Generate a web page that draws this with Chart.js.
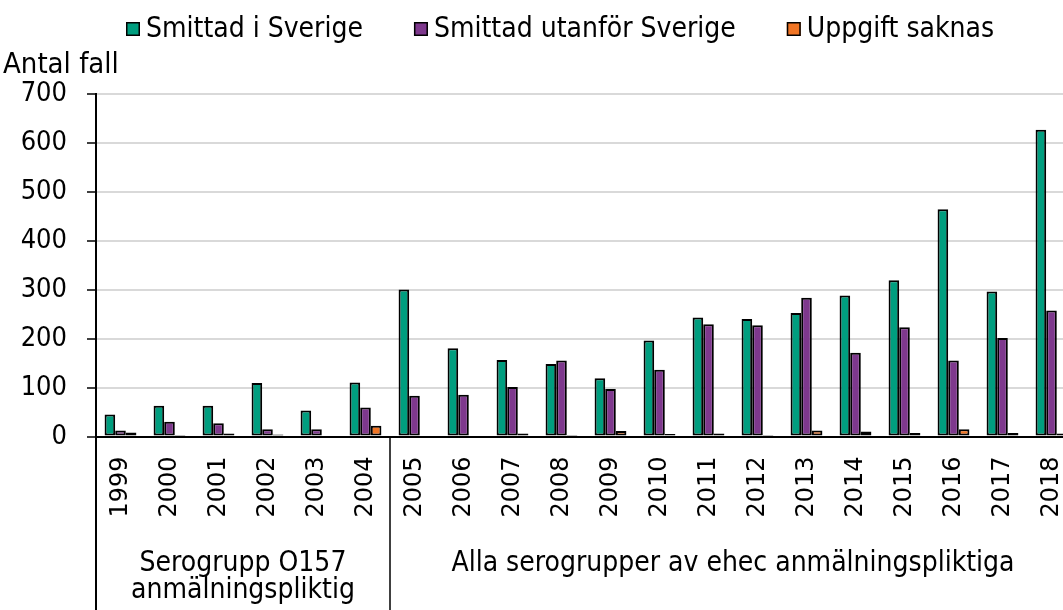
<!DOCTYPE html>
<html>
<head>
<meta charset="utf-8">
<script src="https://cdn.jsdelivr.net/npm/chart.js@4.4.1/dist/chart.umd.min.js"></script>
<style>
  html, body { margin: 0; padding: 0; background: #fff; overflow: hidden; }
  #wrap { position: relative; width: 1090px; height: 610px; }
</style>
</head>
<body>
<div id="wrap"><canvas id="ehecChart"></canvas></div>
<script>
// Data
const years = ['1999', '2000', '2001', '2002', '2003', '2004', '2005', '2006', '2007', '2008',
               '2009', '2010', '2011', '2012', '2013', '2014', '2015', '2016', '2017', '2018'];
const smittadSverige = [45, 63, 63, 109, 53, 110, 300, 180, 156, 148, 119, 196, 243, 240, 252, 288, 319, 464, 296, 626];
const smittadUtanfor = [12, 30, 27, 15, 15, 59, 83, 85, 101, 155, 97, 136, 229, 227, 283, 171, 223, 155, 201, 257];
const uppgiftSaknas = [8, 1, 6, 4, 2, 22, 2, 0, 6, 3, 11, 5, 6, 1, 12, 10, 7, 15, 7, 6];
const yTicks = [0, 100, 200, 300, 400, 500, 600, 700];

const groupLabels = [['Serogrupp O157', 'anmälningspliktig'], ['Alla serogrupper av ehec anmälningspliktiga']];
const groupStart = [0, 6];
const groupEnd = [5, 19];

const narrowFont = "'DejaVu Sans Condensed', 'Liberation Sans', sans-serif";
const wideFont = "'DejaVu Sans', Verdana, sans-serif";

// Legend, y title, group labels and separators
const decorations = {
  id: 'decorations',
  afterDraw(chart) {
    const { ctx, chartArea, scales: { x } } = chart;
    const h = chart.height;
    const half = (x.getPixelForValue(1) - x.getPixelForValue(0)) / 2;
    ctx.save();

    // left axis continues down through the label area
    ctx.strokeStyle = '#000';
    ctx.lineWidth = 2;
    ctx.beginPath();
    ctx.moveTo(chartArea.left, chartArea.bottom);
    ctx.lineTo(chartArea.left, h);
    ctx.stroke();

    // separators between groups + group labels
    ctx.fillStyle = '#000';
    ctx.font = '28px ' + narrowFont;
    ctx.textAlign = 'center';
    ctx.textBaseline = 'alphabetic';
    groupLabels.forEach((lines, i) => {
      const left = x.getPixelForValue(groupStart[i]) - half;
      const right = x.getPixelForValue(groupEnd[i]) + half;
      if (i > 0) {
        ctx.lineWidth = 1.5;
        ctx.beginPath();
        ctx.moveTo(left, chartArea.bottom);
        ctx.lineTo(left, h);
        ctx.stroke();
      }
      lines.forEach((t, j) => ctx.fillText(t, (left + right) / 2, 571 + j * 27));
    });

    // y axis title
    ctx.textAlign = 'left';
    ctx.font = '29px ' + narrowFont;
    ctx.fillText('Antal fall', 3, 73);

    // legend
    ctx.font = '28px ' + narrowFont;
    ctx.textBaseline = 'middle';
    let lx = 126;
    chart.data.datasets.forEach(ds => {
      ctx.fillStyle = ds.backgroundColor;
      ctx.fillRect(lx, 22, 14, 14);
      ctx.strokeStyle = '#000';
      ctx.lineWidth = 1.5;
      ctx.strokeRect(lx + 0.75, 22.75, 12.5, 12.5);
      ctx.fillStyle = '#000';
      ctx.fillText(ds.label, lx + 20, 30);
      lx += 20 + ctx.measureText(ds.label).width + 51;
    });
    ctx.restore();
  }
};

const barStyle = { borderColor: '#000', borderWidth: 2, borderSkipped: false,
                   barPercentage: 1.0, categoryPercentage: 0.65 };

new Chart(document.getElementById('ehecChart'), {
  type: 'bar',
  data: {
    labels: years,
    datasets: [
      { label: 'Smittad i Sverige', data: smittadSverige, backgroundColor: 'rgb(0, 158, 127)', ...barStyle },
      { label: 'Smittad utanför Sverige', data: smittadUtanfor, backgroundColor: 'rgb(126, 56, 141)', ...barStyle },
      { label: 'Uppgift saknas', data: uppgiftSaknas, backgroundColor: 'rgb(241, 117, 36)', ...barStyle }
    ]
  },
  options: {
    responsive: true,
    maintainAspectRatio: false,
    animation: false,
    layout: { padding: { top: 93.5, right: 14, bottom: 0, left: 0 } },
    plugins: {
      legend: { display: false },
      tooltip: { enabled: false }
    },
    scales: {
      x: {
        afterFit(scale) {
          scale.height = 173.5;
          scale.paddingLeft = 0;
          scale.paddingRight = 0;
        },
        grid: { display: false, drawTicks: false },
        border: { display: true, color: '#000', width: 2 },
        ticks: {
          color: '#000',
          font: { family: wideFont, size: 24 },
          minRotation: 90,
          maxRotation: 90,
          autoSkip: false,
          padding: 20
        }
      },
      y: {
        min: 0,
        max: 700,
        afterFit(scale) { scale.width = 96; },
        afterBuildTicks(scale) { scale.ticks = yTicks.map(v => ({ value: v })); },
        grid: { color: '#d9d9d9', lineWidth: 2, tickColor: '#000', tickWidth: 1.5, tickLength: 9 },
        border: { display: true, color: '#000', width: 2 },
        ticks: {
          color: '#000',
          font: { family: narrowFont, size: 27 },
          padding: 20
        }
      }
    }
  },
  plugins: [decorations]
});
</script>
</body>
</html>
